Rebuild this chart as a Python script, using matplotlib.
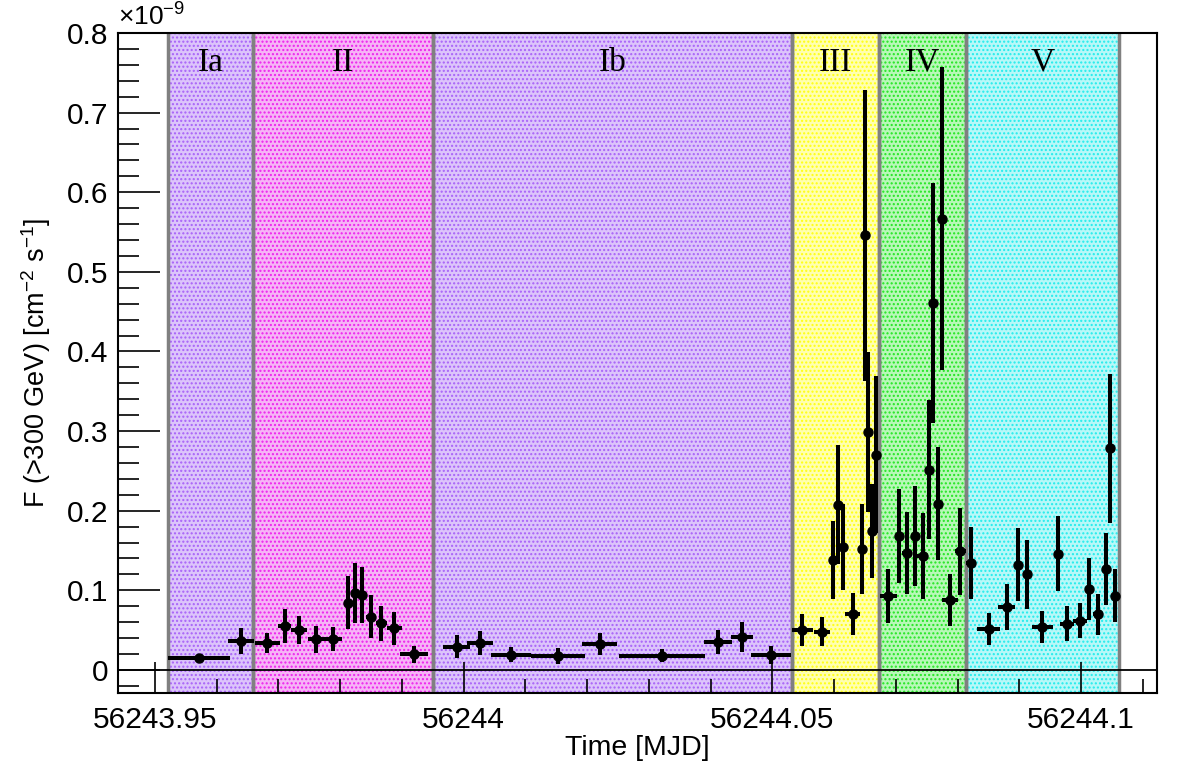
import matplotlib
matplotlib.use("Agg")
import matplotlib.pyplot as plt
from matplotlib.ticker import FixedLocator, MultipleLocator, FuncFormatter

plt.rcParams['font.family'] = ['Liberation Sans', 'DejaVu Sans']
plt.rcParams['mathtext.default'] = 'regular'
plt.rcParams['hatch.linewidth'] = 1.0

# light curve, flux in units of 1e-9 cm^-2 s^-1
mjd = [56243.95712, 56243.96392, 56243.96820, 56243.97104, 56243.97335, 56243.97605,
       56243.97880, 56243.98118, 56243.98241, 56243.98345, 56243.98495, 56243.98668,
       56243.98872, 56243.99196,
       56243.99887, 56244.00270, 56244.00760, 56244.01521, 56244.02201, 56244.03204,
       56244.04126, 56244.04515, 56244.04984,
       56244.05485, 56244.05801, 56244.05976, 56244.06063, 56244.06149, 56244.06303,
       56244.06448, 56244.06505, 56244.06542, 56244.06613, 56244.06683,
       56244.06877, 56244.07055, 56244.07180, 56244.07309, 56244.07432, 56244.07540,
       56244.07600, 56244.07675, 56244.07746, 56244.07872, 56244.08042,
       56244.08220, 56244.08500, 56244.08794, 56244.08985, 56244.09131, 56244.09374,
       56244.09633, 56244.09778, 56244.09979, 56244.10134, 56244.10275, 56244.10405,
       56244.10469, 56244.10555]
mjd_err = [0.00502, 0.00215, 0.00202, 0.00105, 0.00134, 0.00134,
           0.00141, 0.0005, 0.0005, 0.0005, 0.0008, 0.00094,
           0.00121, 0.00232,
           0.00215, 0.0021, 0.00324, 0.00437, 0.00283, 0.00696,
           0.00227, 0.00178, 0.00324,
           0.00175, 0.00134, 0.0004, 0.0004, 0.0004, 0.00121,
           0.0004, 0.0004, 0.0004, 0.0004, 0.0004,
           0.00134, 0.0004, 0.0008, 0.0004, 0.0009, 0.0004,
           0.0004, 0.0004, 0.0004, 0.00126, 0.0009,
           0.0008, 0.0019, 0.00138, 0.0006, 0.0006, 0.0017,
           0.0004, 0.00113, 0.0011, 0.0005, 0.0008, 0.0004,
           0.0004, 0.0004]
flux = [0.0147, 0.0365, 0.0335, 0.0553, 0.050, 0.0386,
        0.0386, 0.0847, 0.0965, 0.094, 0.067, 0.0587,
        0.0524, 0.020,
        0.0293, 0.0335, 0.0189, 0.0176, 0.0327, 0.018,
        0.0356, 0.041, 0.0189,
        0.0503, 0.0482, 0.138, 0.2075, 0.155, 0.0704,
        0.152, 0.546, 0.299, 0.174, 0.2704,
        0.093, 0.1677, 0.1468, 0.1686, 0.1434, 0.2516,
        0.461, 0.2088, 0.567, 0.088, 0.1488,
        0.1346, 0.051, 0.079, 0.132, 0.120, 0.054,
        0.146, 0.058, 0.0617, 0.102, 0.070, 0.1268,
        0.2786, 0.0933]
flux_err = [0.004, 0.016, 0.0126, 0.021, 0.018, 0.017,
            0.015, 0.0335, 0.038, 0.035, 0.027, 0.022,
            0.021, 0.0107,
            0.014, 0.015, 0.0094, 0.010, 0.014, 0.008,
            0.015, 0.019, 0.011,
            0.0197, 0.0184, 0.0495, 0.0745, 0.054, 0.026,
            0.056, 0.183, 0.1, 0.059, 0.099,
            0.0335, 0.059, 0.052, 0.063, 0.054, 0.0875,
            0.151, 0.0707, 0.19, 0.0325, 0.0545,
            0.045, 0.020, 0.029, 0.046, 0.043, 0.020,
            0.047, 0.022, 0.022, 0.039, 0.026, 0.045,
            0.0935, 0.0337]

# flare phases
region_names = ["Ia", "II", "Ib", "III", "IV", "V"]
region_start = [56243.9521, 56243.9659, 56243.9951, 56244.0531, 56244.0673, 56244.0814]
region_end = [56243.9659, 56243.9951, 56244.0531, 56244.0673, 56244.0814, 56244.1061]
region_face = ["#dcc4fb", "#f6b4f6", "#dcc4fb", "#ffffb0", "#b8f8b8", "#b8f8f8"]
region_dots = ["#a862f8", "#ee22ee", "#a862f8", "#ffff10", "#22e622", "#22ecec"]

xticks = [56243.95, 56244.0, 56244.05, 56244.1]
xtick_labels = ["56243.95", "56244", "56244.05", "56244.1"]


def draw_regions(ax):
    for name, x0, x1, fc, dc in zip(region_names, region_start, region_end, region_face, region_dots):
        ax.axvspan(x0, x1, facecolor=fc, edgecolor=dc, hatch='....', linewidth=0, zorder=0)
        ax.axvline(x0, color='#808080', lw=2.5, zorder=1)
        ax.axvline(x1, color='#808080', lw=2.5, zorder=1)
        ax.text((x0 + x1) / 2, 0.763, name, ha='center', va='center',
                fontsize=24, family='Liberation Serif', zorder=3)


fig = plt.figure(figsize=(11.82, 7.63), dpi=100)
ax = fig.add_axes([0.0998, 0.0917, 0.8791, 0.865])

draw_regions(ax)
ax.axhline(0, color='black', lw=1.3, zorder=2)
ax.errorbar(mjd, flux, xerr=mjd_err, yerr=flux_err, fmt='o', color='black',
            ms=6.5, elinewidth=2.9, capsize=0, zorder=4)

ax.set_xlim(56243.944, 56244.1123)
ax.set_ylim(-0.029, 0.8)

ax.xaxis.set_major_locator(FixedLocator(xticks))
ax.xaxis.set_major_formatter(FuncFormatter(lambda v, p: xtick_labels[p] if p is not None and p < len(xtick_labels) else ""))
ax.xaxis.set_minor_locator(MultipleLocator(0.01))
ax.yaxis.set_major_locator(MultipleLocator(0.1))
ax.yaxis.set_minor_locator(MultipleLocator(0.02))
ax.yaxis.set_major_formatter(FuncFormatter(lambda v, p: "0" if abs(v) < 1e-9 else "%.1f" % v))

ax.tick_params(which='both', direction='in', top=False, right=False, labelsize=21.5, width=1.2)
ax.tick_params(axis='x', which='major', length=22, pad=9)
ax.tick_params(axis='x', which='minor', length=10)
ax.tick_params(axis='y', which='major', length=30, pad=7)
ax.tick_params(axis='y', which='minor', length=15)

for s in ax.spines.values():
    s.set_linewidth(1.5)
    s.set_zorder(5)

ax.set_xlabel("Time [MJD]", fontsize=20.5, labelpad=1)
ax.set_ylabel("F (>300 GeV) [cm$^{-2}$ s$^{-1}$]", fontsize=19.5, labelpad=10)
ax.text(0.0, 1.003, r"$\times$10$^{-9}$", transform=ax.transAxes, ha='left', va='bottom', fontsize=19)

fig.savefig("out.png", dpi=100)
